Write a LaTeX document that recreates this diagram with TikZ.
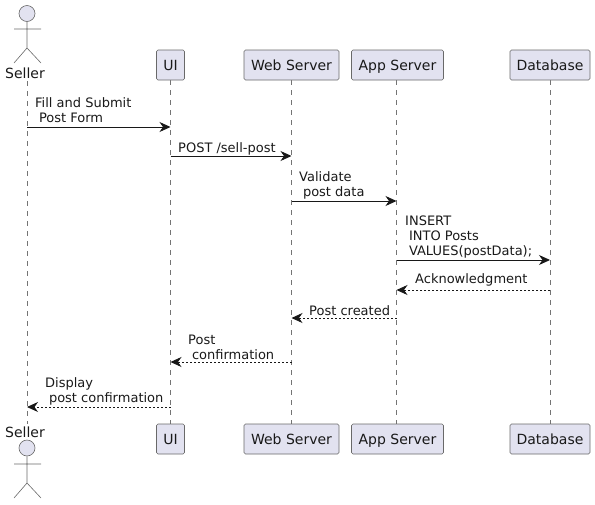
\documentclass[tikz,border=0pt]{standalone}
\usepackage{fontspec}
\setmainfont{DejaVu Sans}
\usetikzlibrary{arrows.meta}

\definecolor{partfill}{HTML}{E2E2F0}
\definecolor{partline}{HTML}{181818}

\tikzset{
    part/.style={draw=partline!65,fill=partfill,rounded corners=1.5pt,line width=0.6pt,minimum height=30pt,inner xsep=0pt,text height=13pt,text depth=3pt,font=\fontsize{14}{16}\selectfont,text=black!90},
    life/.style={draw=partline!60,line width=0.5pt,dash pattern=on 5pt off 5pt},
    msg/.style={draw=partline,line width=0.9pt,-{Stealth[length=11pt,width=10pt,inset=3.5pt]}},
    reply/.style={msg,dash pattern=on 2pt off 2pt},
    txt/.style={anchor=south west,align=left,inner sep=0pt,font=\fontsize{13}{15}\selectfont,text=black!90},
    who/.style={inner sep=0pt,font=\fontsize{14}{16}\selectfont,text=black!90},
    limb/.style={draw=partline!65,line width=0.6pt},
    head/.style={circle,draw=partline!65,fill=partfill,line width=0.6pt,minimum size=16pt,inner sep=0pt}
}

\newcommand{\lead}{\hspace*{3.8pt}}

\begin{document}
\begin{tikzpicture}[x=1pt,y=-1pt]
    \useasboundingbox (0,0) rectangle (595,504);

    % anchor points of the messages
    \foreach \who/\x in {seller/27,ui/170.5,web/291.5,app/396.5,db/550}
        \foreach \n/\y in {1/127,2/156,3/201,4/260,5/290,6/318,7/362,8/407}
            \coordinate (\who\n) at (\x,\y);

    % lifelines go under the boxes
    \coordinate (selleras) at (27,81);
    \coordinate (sellerae) at (27,424);
    \coordinate (uias) at (170.5,80);
    \coordinate (uiae) at (170.5,424);
    \coordinate (webas) at (291.5,80);
    \coordinate (webae) at (291.5,424);
    \coordinate (appas) at (396.5,80);
    \coordinate (appae) at (396.5,424);
    \coordinate (dbas) at (550,80);
    \coordinate (dbae) at (550,424);
    \foreach \who in {seller,ui,web,app,db}
        \draw[life] (\who as) -- (\who ae);

    % top row of participants
    \node[who] (sellertop) at (25,73) {Seller};
    \node[part,minimum width=28pt] (uitop) at (170.5,65) {UI};
    \node[part,minimum width=95pt] (webtop) at (291.5,65) {Web Server};
    \node[part,minimum width=92pt] (apptop) at (397.5,65) {App Server};
    \node[part,minimum width=80pt] (dbtop) at (550,65) {Database};

    % bottom row of participants
    \node[who] (sellerbot) at (25,432) {Seller};
    \node[part,minimum width=28pt] (uibot) at (170.5,439) {UI};
    \node[part,minimum width=95pt] (webbot) at (291.5,439) {Web Server};
    \node[part,minimum width=92pt] (appbot) at (397.5,439) {App Server};
    \node[part,minimum width=80pt] (dbbot) at (550,439) {Database};

    % the two actors
    \node[head] (headtop) at (27,13.5) {};
    \coordinate (hiptop) at (27,48);
    \coordinate (lefttop) at (14,29);
    \coordinate (righttop) at (41,29);
    \coordinate (lfoottop) at (14,63);
    \coordinate (rfoottop) at (41,63);
    \draw[limb] (headtop) -- (hiptop) (lefttop) -- (righttop) (lfoottop) -- (hiptop) -- (rfoottop);

    \node[head] (headbot) at (27,448) {};
    \coordinate (hipbot) at (27,483);
    \coordinate (leftbot) at (14,464);
    \coordinate (rightbot) at (41,464);
    \coordinate (lfootbot) at (14,498);
    \coordinate (rfootbot) at (41,498);
    \draw[limb] (headbot) -- (hipbot) (leftbot) -- (rightbot) (lfootbot) -- (hipbot) -- (rfootbot);

    % messages
    \draw[msg] (seller1) -- (ui1);
    \node[txt] (lab1) at (35,123) {Fill and Submit\\\lead Post Form};

    \draw[msg] (ui2) -- (web2);
    \node[txt] (lab2) at (178,155) {POST /sell-post};

    \draw[msg] (web3) -- (app3);
    \node[txt] (lab3) at (299,199.5) {Validate\\\lead post data};

    \draw[msg] (app4) -- (db4);
    \node[txt] (lab4) at (405,258.5) {INSERT\\\lead INTO Posts\\\lead VALUES(postData);};

    \draw[reply] (db5) -- (app5);
    \node[txt] (lab5) at (415,286.5) {Acknowledgment};

    \draw[reply] (app6) -- (web6);
    \node[txt] (lab6) at (309,315.5) {Post created};

    \draw[reply] (web7) -- (ui7);
    \node[txt] (lab7) at (188,359.5) {Post\\\lead confirmation};

    \draw[reply] (ui8) -- (seller8);
    \node[txt] (lab8) at (45,405.5) {Display\\\lead post confirmation};
\end{tikzpicture}
\end{document}
